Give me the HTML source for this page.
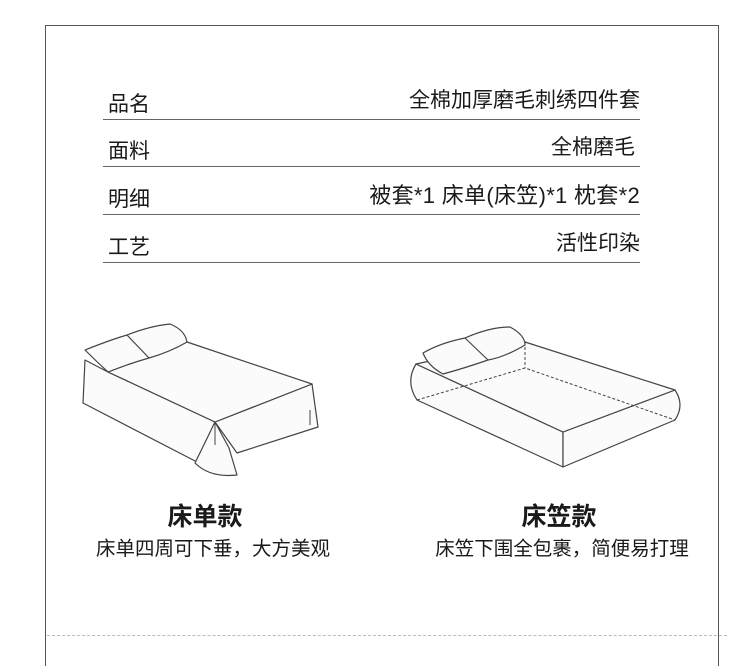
<!DOCTYPE html>
<html><head><meta charset="utf-8"><style>
html,body{margin:0;padding:0;background:#fff;}
body{width:750px;height:641px;position:relative;overflow:hidden;font-family:"Liberation Sans","Noto Sans CJK SC",sans-serif;color:#1a1a1a;}
.frame{position:absolute;left:45px;top:25px;width:672px;height:640px;border:1px solid #555;border-bottom:none;}
.dash{position:absolute;left:47px;top:635px;width:680px;border-top:1px dashed #bbb;}
.row{position:absolute;left:103px;width:537px;border-bottom:1.5px solid #666;height:30px;}
.row .l{position:absolute;left:5px;bottom:2px;font-size:21px;line-height:24px;}
.row .r{position:absolute;right:0;bottom:6px;font-size:21px;line-height:24px;white-space:nowrap;}
.t{position:absolute;font-size:25px;font-weight:bold;text-align:center;width:200px;line-height:30px;}
.s{position:absolute;font-size:19.5px;text-align:center;width:300px;line-height:24px;white-space:nowrap;}
</style></head><body>
<div class="frame"></div>
<div class="dash"></div>
<div class="row" style="top:89px"><span class="l">品名</span><span class="r">全棉加厚磨毛刺绣四件套</span></div>
<div class="row" style="top:136px"><span class="l">面料</span><span class="r" style="right:5px">全棉磨毛</span></div>
<div class="row" style="top:184px"><span class="l">明细</span><span class="r" style="font-size:22px;letter-spacing:0.3px">被套*1 床单(床笠)*1 枕套*2</span></div>
<div class="row" style="top:232px"><span class="l">工艺</span><span class="r">活性印染</span></div>

<svg style="position:absolute;left:0;top:0" width="750" height="641" viewBox="0 0 750 641" fill="#fbfbfb" stroke="#444" stroke-width="1.2" stroke-linejoin="round">
<path d="M85,360 L83,403 L197,462 L215,422 L108,372 Z"/>
<path d="M215,422 L312,384 L318,427 L237,453 L215,422 Z"/>
<path d="M215,422 L195,463 Q210,478 237,475 L229,448 Z"/>
<path d="M108,372 L187,342 L312,384 L215,422 Z"/>
<path d="M85,350 Q110,340 127,335 Q150,326 170,324 Q185,330 187,342 Q170,352 149,358 Q128,364 108,372 Q95,360 85,350 Z"/>
<path d="M127,335 L149,358" fill="none"/>
<path d="M215,422 L215,445 M310,410 L310,425" fill="none" stroke-width="1"/>
<path d="M416,364 Q405,382 417,400 L563,467 L563,432 Z"/>
<path d="M563,432 L675,390 Q685,405 675,420 L563,467 Z"/>
<path d="M416,364 L430,361 L525,342 L675,390 L563,432 Z"/>
<path d="M417,400 L525,368 L675,420 M525,342 L525,368" fill="none" stroke-dasharray="3,2" stroke-width="1"/>
<path d="M423,353 Q440,343 465,338 Q490,327 510,327 Q525,335 525,345 Q505,357 488,360 Q465,368 443,374 Q428,366 423,353 Z"/>
<path d="M465,338 L488,360" fill="none"/>
</svg>

<div class="t" style="left:105px;top:502px">床单款</div>
<div class="s" style="left:63px;top:537px">床单四周可下垂，大方美观</div>
<div class="t" style="left:459px;top:502px">床笠款</div>
<div class="s" style="left:412px;top:537px">床笠下围全包裹，简便易打理</div>
</body></html>
